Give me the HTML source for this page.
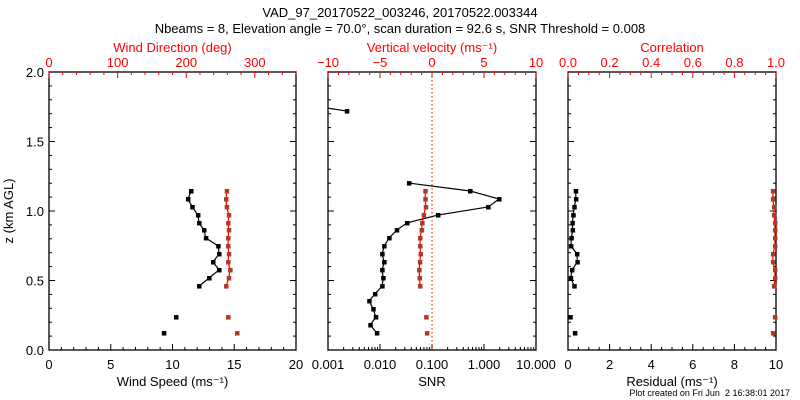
<!DOCTYPE html>
<html><head><meta charset="utf-8"><style>
body{margin:0;background:#fff;}
svg{display:block;font-family:"Liberation Sans",sans-serif;}
</style></head><body>
<svg id="c" width="800" height="400" xmlns="http://www.w3.org/2000/svg">
<text x="400" y="17" text-anchor="middle" font-size="13">VAD_97_20170522_003246, 20170522.003344</text>
<text x="400" y="33" text-anchor="middle" font-size="13">Nbeams = 8, Elevation angle = 70.0°, scan duration = 92.6 s, SNR Threshold = 0.008</text>
<text x="790" y="396" text-anchor="end" font-size="9" style="white-space:pre">Plot created on Fri Jun  2 16:38:01 2017</text>
</svg>
<script>
// heights (km AGL)
const zMain = [1.144,1.086,1.029,0.971,0.914,0.863,0.806,0.748,0.691,0.633,0.576,0.518,0.460,0.237,0.122];
const windSpeed = [11.5,11.25,11.6,12.06,12.15,12.55,12.7,13.7,13.77,13.28,13.77,12.96,12.15,10.28,9.3];
const windDir = [259,258,259,262,261,262,261,261,262,261,264,262,258,261,274];
const zSnr = [1.719,1.201,1.144,1.086,1.029,0.971,0.914,0.863,0.806,0.748,0.691,0.633,0.576,0.518,0.460,0.403,0.353,0.295,0.237,0.180,0.122];
const snr = [0.0023,0.036,0.54,1.95,1.2,0.13,0.033,0.021,0.015,0.012,0.011,0.012,0.011,0.0115,0.011,0.008,0.0062,0.0074,0.0083,0.0065,0.0087];
const wVel = [-0.65,-0.65,-0.6,-0.8,-0.95,-1.0,-1.15,-1.15,-1.1,-1.17,-1.24,-1.2,-1.15,-0.56,-0.49];
const residual = [0.37,0.38,0.30,0.25,0.21,0.22,0.16,0.14,0.43,0.45,0.19,0.13,0.30,0.11,0.33];
const corr = [0.985,0.985,0.99,0.99,0.995,0.995,0.995,0.995,0.985,0.985,0.995,0.995,0.99,0.995,0.985];

const svg=document.getElementById('c');const NS='http://www.w3.org/2000/svg';
const RED='#ff0000', BR='#b33a22';
function mk(t,a,txt){const e=document.createElementNS(NS,t);for(const k in a)e.setAttribute(k,a[k]);if(txt!==undefined)e.textContent=txt;svg.appendChild(e);return e;}
const Y0=350,Y1=72;
const yS=z=>Y0-(z/2)*(Y0-Y1);
function lin(a,b,x0,x1){return v=>x0+(v-a)/(b-a)*(x1-x0);}
function logS(a,b,x0,x1){return v=>x0+(Math.log10(v)-Math.log10(a))/(Math.log10(b)-Math.log10(a))*(x1-x0);}

function frame(x0,x1,name){
  const r=mk('rect',{x:x0,y:Y1,width:x1-x0,height:Y0-Y1,fill:'none',stroke:'#000','stroke-width':1.3});
  
  
  for(let i=0;i<=20;i++){const y=yS(i/10);const L=i%5==0?6:3;
    mk('line',{x1:x0,x2:x0+L,y1:y,y2:y,stroke:'#000'});mk('line',{x1:x1,x2:x1-L,y1:y,y2:y,stroke:'#000'});}
}
function xTicks(vals,scale,maj,y,dir,color){
  for(const v of vals){const x=scale(v.v);const L=v.m?6:3;mk('line',{x1:x,x2:x,y1:y,y2:y+dir*L,stroke:color});}
}
function lbl(x,y,t,color,name,anchor){const e=mk('text',{x:x,y:y,'text-anchor':anchor||'middle','font-size':13,fill:color},t);
  
  return e;}

['0.0','0.5','1.0','1.5','2.0'].forEach((t,i)=>lbl(44,yS(i*0.5)+5,t,'#000','y-tick-label','end'));
const yt=mk('text',{x:0,y:0,'text-anchor':'middle','font-size':13,transform:`translate(13,${(Y0+Y1)/2}) rotate(-90)`},'z (km AGL)');



// Panel 1
const P1=[49,296];frame(P1[0],P1[1],'wind-panel');
const sx1=lin(0,20,P1[0],P1[1]), dx1=lin(0,360,P1[0],P1[1]);
let t=[];for(let v=0;v<=20;v++)t.push({v,m:v%5==0});xTicks(t,sx1,0,Y0,-1,'#000');
t=[];for(let v=0;v<=360;v+=20)t.push({v,m:v%100==0});xTicks(t,dx1,0,Y1,1,RED);
[0,5,10,15,20].forEach(v=>lbl(sx1(v),369,String(v),'#000','wind-speed-tick-label'));
[0,100,200,300].forEach(v=>lbl(dx1(v),67,String(v),RED,'wind-dir-tick-label'));
lbl(sx1(10),386,'Wind Speed (ms⁻¹)','#000','wind-speed-axis-title');
lbl(dx1(180),52,'Wind Direction (deg)',RED,'wind-dir-axis-title');

// Panel 2
const P2=[328,536];frame(P2[0],P2[1],'snr-panel');
const sx2=logS(0.001,10,P2[0],P2[1]), wx2=lin(-10,10,P2[0],P2[1]);
t=[];for(let d=-3;d<1;d++)for(let k=1;k<=9;k++)t.push({v:k*Math.pow(10,d),m:k==1});t.push({v:10,m:true});xTicks(t,sx2,0,Y0,-1,'#000');
t=[];for(let v=-10;v<=10;v++)t.push({v,m:v%5==0});xTicks(t,wx2,0,Y1,1,RED);
['0.001','0.010','0.100','1.000','10.000'].forEach(s=>lbl(sx2(parseFloat(s)),369,s,'#000','snr-tick-label'));
[-10,-5,0,5,10].forEach(v=>lbl(wx2(v),67,v<0?'−'+(-v):String(v),RED,'w-tick-label'));
lbl(sx2(0.1),386,'SNR','#000','snr-axis-title');
lbl(wx2(0),52,'Vertical velocity (ms⁻¹)',RED,'w-axis-title');
mk('line',{x1:wx2(0),x2:wx2(0),y1:Y1,y2:Y0,stroke:RED,'stroke-dasharray':'1.5,2.5'});

// Panel 3
const P3=[568,776];frame(P3[0],P3[1],'residual-panel');
const rx3=lin(0,10,P3[0],P3[1]), cx3=lin(0,1,P3[0],P3[1]);
t=[];for(let v=0;v<=10;v+=0.5)t.push({v,m:Math.abs(v/2-Math.round(v/2))<1e-6});xTicks(t,rx3,0,Y0,-1,'#000');
t=[];for(let v=0;v<=20;v++)t.push({v:v/20,m:v%4==0});xTicks(t,cx3,0,Y1,1,RED);
[0,2,4,6,8,10].forEach(v=>lbl(rx3(v),369,String(v),'#000','residual-tick-label'));
['0.0','0.2','0.4','0.6','0.8','1.0'].forEach(s=>lbl(cx3(parseFloat(s)),67,s,RED,'corr-tick-label'));
lbl(rx3(5),386,'Residual (ms⁻¹)','#000','residual-axis-title');
lbl(cx3(0.5),52,'Correlation',RED,'corr-axis-title');

function series(xs,zs,scale,n,lineC,ptC,name){
  const pts=xs.map((v,i)=>[scale(v),yS(zs[i])]);
  const seg=pts.slice(0,n);
  const pl=mk('polyline',{points:seg.map(p=>p.join(',')).join(' '),fill:'none',stroke:lineC,'stroke-width':1.2});
  
  
  pts.forEach(p=>{const c=mk('rect',{x:p[0]-2,y:p[1]-2,width:4.5,height:4.5,fill:ptC});
    
    });
}

series(windSpeed,zMain,sx1,13,'#000','#000','wind-speed');
series(windDir,zMain,dx1,13,RED,BR,'wind-dir');
series(snr.slice(0,1),zSnr.slice(0,1),sx2,1,'#000','#000','snr-high');
mk('line',{x1:P2[0],y1:yS(1.74),x2:sx2(snr[0]),y2:yS(zSnr[0]),stroke:'#000','stroke-width':1.2});
(function(){const xs=snr.slice(1),zs=zSnr.slice(1);series(xs,zs,sx2,xs.length,'#000','#000','snr');})();
series(wVel,zMain,wx2,13,RED,BR,'w-vel');
series(residual,zMain,rx3,13,'#000','#000','residual');
series(corr,zMain,cx3,13,RED,BR,'correlation');
</script>
</body></html>
